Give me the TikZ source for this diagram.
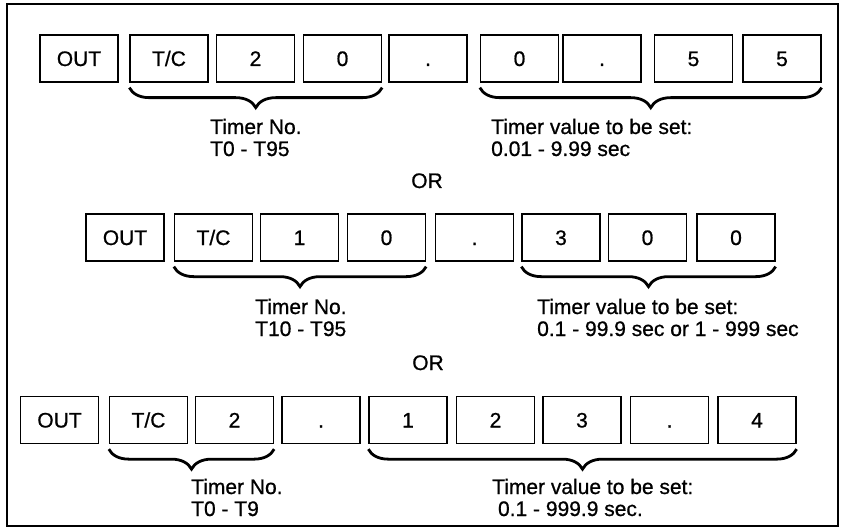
\documentclass[tikz,border=0pt]{standalone}
\usepackage{fontspec}
\setmainfont[FakeBold=0.8]{Liberation Sans}
\usetikzlibrary{positioning, decorations.pathreplacing}

\begin{document}
\begin{tikzpicture}[
        x=1pt, y=-1pt,
        key/.style={rectangle, draw=black, line width=1.3pt, minimum width=78pt, minimum height=47pt, inner sep=0pt, text height=15pt, text depth=0pt, font=\fontsize{21}{22}\selectfont},
        brc/.style={decorate, decoration={brace, mirror, amplitude=20pt}, line width=2.8pt},
        lbl/.style={anchor=base west, align=left, inner sep=0pt, font=\fontsize{21}{22}\selectfont},
        ortext/.style={anchor=base, inner sep=0pt, font=\fontsize{21}{22}\selectfont}
    ]
        \useasboundingbox (0,0) rectangle (844,532);
        \draw[line width=2pt] (7,4) rectangle (838,526);
        % first form
        \node[key] (r1out) at (79, 58.5) {OUT};
        \node[key] (r1tc) at (169, 58.5) {T/C};
        \node[key] (r1na) at (255.5, 58.5) {2};
        \node[key] (r1nb) at (342.5, 58.5) {0};
        \node[key] (r1pt) at (428, 58.5) {.};
        \node[key] (r1va) at (519.5, 58.5) {0};
        \node[key] (r1vb) at (602, 58.5) {.};
        \node[key] (r1vc) at (693.5, 58.5) {5};
        \node[key] (r1vd) at (782, 58.5) {5};
        \draw[brc] ([yshift=-5pt]r1tc.south west) -- ([yshift=-5pt]r1nb.south east);
        \draw[brc] ([yshift=-5pt]r1va.south west) -- ([yshift=-5pt]r1vd.south east);
        \node[lbl] (r1no) at (210, 156) {Timer No.\\T0 - T95};
        \node[lbl] (r1val) at (491, 156) {Timer value to be set:\\0.01 - 9.99 sec};
        \node[ortext] (or1) at (427, 188) {OR};
        % second form
        \node[key] (r2out) at (125, 237.5) {OUT};
        \node[key] (r2tc) at (213.5, 237.5) {T/C};
        \node[key] (r2na) at (299.5, 237.5) {1};
        \node[key] (r2nb) at (386.5, 237.5) {0};
        \node[key] (r2pt) at (474.5, 237.5) {.};
        \node[key] (r2va) at (561, 237.5) {3};
        \node[key] (r2vb) at (647.5, 237.5) {0};
        \node[key] (r2vc) at (736, 237.5) {0};
        \draw[brc] ([yshift=-5pt]r2tc.south west) -- ([yshift=-5pt]r2nb.south east);
        \draw[brc] ([yshift=-5pt]r2va.south west) -- ([yshift=-5pt]r2vc.south east);
        \node[lbl] (r2no) at (255, 336) {Timer No.\\T10 - T95};
        \node[lbl] (r2val) at (537, 336) {Timer value to be set:\\0.1 - 99.9 sec or 1 - 999 sec};
        \node[ortext] (or2) at (428, 370) {OR};
        % third form
        \node[key] (r3out) at (59.5, 420) {OUT};
        \node[key] (r3tc) at (148.5, 420) {T/C};
        \node[key] (r3na) at (234.5, 420) {2};
        \node[key] (r3pt) at (321, 420) {.};
        \node[key] (r3va) at (408, 420) {1};
        \node[key] (r3vb) at (495.5, 420) {2};
        \node[key] (r3vc) at (582, 420) {3};
        \node[key] (r3vd) at (669.5, 420) {.};
        \node[key] (r3ve) at (757, 420) {4};
        \draw[brc] ([yshift=-5pt]r3tc.south west) -- ([yshift=-5pt]r3na.south east);
        \draw[brc] ([yshift=-5pt]r3va.south west) -- ([yshift=-5pt]r3ve.south east);
        \node[lbl] (r3no) at (191, 516) {Timer No.\\T0 - T9};
        \node[lbl] (r3val) at (492, 516) {Timer value to be set:\\\ 0.1 - 999.9 sec.};
    \end{tikzpicture}
\end{document}
